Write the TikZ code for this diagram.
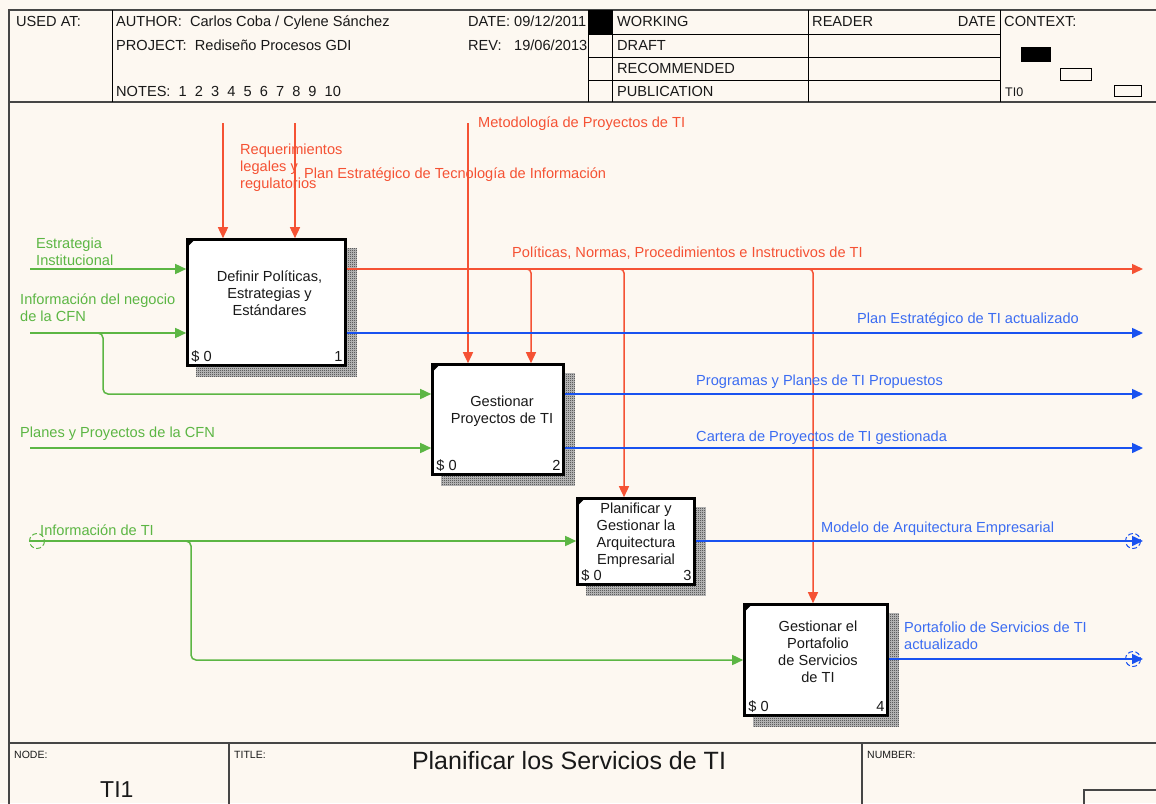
\documentclass[tikz,border=0pt]{standalone}
\usepackage{fontspec}
\setmainfont{Liberation Sans}
\usetikzlibrary{arrows.meta,calc,patterns}

\definecolor{paper}{RGB}{253,248,241}
\definecolor{framegray}{RGB}{70,70,70}
\definecolor{ctrlred}{RGB}{245,82,52}
\definecolor{outblue}{RGB}{25,82,240}
\definecolor{ingreen}{RGB}{92,182,68}
\definecolor{inkgray}{RGB}{25,25,25}

% fine dither used for the box shadows
\pgfdeclarepatternformonly{dither}{\pgfqpoint{0pt}{0pt}}{\pgfqpoint{2pt}{2pt}}{\pgfqpoint{2pt}{2pt}}{%
  \pgfpathrectangle{\pgfqpoint{0pt}{0pt}}{\pgfqpoint{1pt}{1pt}}%
  \pgfpathrectangle{\pgfqpoint{1pt}{1pt}}{\pgfqpoint{1pt}{1pt}}%
  \pgfusepath{fill}}

\newcommand{\labfont}{\fontsize{14.6}{17}\selectfont}
\newcommand{\tinyfont}{\fontsize{10.5}{12}\selectfont}

\begin{document}
\begin{tikzpicture}[x=1pt,y=-1pt,
  frame/.style={draw=framegray,line width=2pt},
  rule/.style={draw=black,line width=1pt},
  txt/.style={font=\labfont,text=inkgray,inner sep=0pt,anchor=base west},
  redtxt/.style={txt,text=ctrlred},
  bluetxt/.style={txt,text=outblue!85!white},
  greentxt/.style={txt,text=ingreen},
  multi/.style={align=left,anchor=north west},
  fnbox/.style={draw=black,line width=2.6pt,fill=white,inner sep=0pt},
  boxtext/.style={font=\labfont,text=inkgray,align=center,inner sep=0pt},
  tip/.style={-{Triangle[length=11pt,width=10pt]}},
  ctrl/.style={draw=ctrlred,line width=1.5pt,tip},
  inarrow/.style={draw=ingreen,line width=1.5pt,tip},
  outarrow/.style={draw=outblue,line width=1.5pt,tip},
  tunnelblue/.style={draw=outblue,line width=1pt,dash pattern=on 5pt off 2.5pt},
  tunnelgreen/.style={draw=ingreen,line width=1pt,dash pattern=on 5pt off 2.5pt},
  shade/.style={preaction={fill=gray!45},pattern=dither,pattern color=black!85},
]
\useasboundingbox (0,0) rectangle (1156,803);
\fill[paper] (0,0) rectangle (1156,803);

% ---------- frame ----------
\draw[frame] (1160,10) -- (9,10) -- (9,810);
\draw[frame] (9,102) -- (1160,102);
\draw[frame] (9,743) -- (1160,743);

% ---------- header ----------
\draw[rule] (112,10) -- (112,102);
\draw[rule] (588,10) -- (588,102);
\draw[rule] (612,10) -- (612,102);
\draw[rule] (808,10) -- (808,102);
\draw[rule] (1000,10) -- (1000,102);
\foreach \yy in {34,57,80} \draw[rule] (588,\yy) -- (1000,\yy);

\node[txt] (usedat) at (16,27) {USED AT:};
\node[txt] (author) at (116,27) {AUTHOR:~ Carlos Coba / Cylene Sánchez};
\node[txt] (project) at (116,50) {PROJECT:~ Rediseño Procesos GDI};
\node[txt] (notes) at (116,96) {NOTES:~ 1~ 2~ 3~ 4~ 5~ 6~ 7~ 8~ 9~ 10};
\node[txt] (date) at (468,27) {\makebox[46pt][l]{DATE:}09/12/2011};
\node[txt] (rev) at (468,50) {\makebox[46pt][l]{REV:}19/06/2013};
\fill[black] (588,10) rectangle (612,34);

\node[txt] (working) at (617,27) {WORKING};
\node[txt] (draft) at (617,50) {DRAFT};
\node[txt] (recom) at (617,73) {RECOMMENDED};
\node[txt] (publ) at (617,96) {PUBLICATION};
\node[txt] (reader) at (812,27) {READER};
\node[txt,anchor=base east] (rdate) at (996,27) {DATE};
\node[txt] (context) at (1004,27) {CONTEXT:};
\node[txt,font=\fontsize{12.5}{14}\selectfont] (ctxnode) at (1005,96) {TI0};
\fill[black] (1021,47) rectangle (1051,62);
\draw[rule] (1060,68) rectangle (1091,80);
\draw[rule] (1114,85) rectangle (1141,96);

% ---------- function boxes ----------
\node[fnbox,minimum width=158pt,minimum height=126pt] (b1) at (266.5,302.5) {};
\node[fnbox,minimum width=131pt,minimum height=110pt] (b2) at (498,419.5) {};
\node[fnbox,minimum width=117pt,minimum height=86pt] (b3) at (636,541.5) {};
\node[fnbox,minimum width=143pt,minimum height=111pt] (b4) at (816,660) {};

\foreach \b in {b1,b2,b3,b4}{
  \fill[shade] ($(\b.north east)+(0,10)$) rectangle ($(\b.south east)+(10,10)$);
  \fill[shade] ($(\b.south west)+(10,0)$) rectangle ($(\b.south east)+(0,10)$);
  \fill[black] ($(\b.north west)+(1,1)$) -- +(8,0) -- +(0,8) -- cycle;
  \node[txt,anchor=base west] at ($(\b.south west)+(5,-5)$) {\$ 0};
}
\node[txt,anchor=base east] (n1) at ($(b1.south east)+(-4,-5)$) {1};
\node[txt,anchor=base east] (n2) at ($(b2.south east)+(-4,-5)$) {2};
\node[txt,anchor=base east] (n3) at ($(b3.south east)+(-4,-5)$) {3};
\node[txt,anchor=base east] (n4) at ($(b4.south east)+(-4,-5)$) {4};

\node[boxtext] (t1) at ($(b1.center)+(3,-9)$) {Definir Políticas,\\Estrategias y\\Estándares};
\node[boxtext] (t2) at ($(b2.center)+(4,-8)$) {Gestionar\\Proyectos de TI};
\node[boxtext] (t3) at ($(b3.center)+(0,-6)$) {Planificar y\\Gestionar la\\Arquitectura\\Empresarial};
\node[boxtext] (t4) at ($(b4.center)+(2,-8)$) {Gestionar el\\Portafolio\\de Servicios\\de TI};

% ---------- controls ----------
\coordinate (c1) at (223,123);
\coordinate (c2) at (295,123);
\coordinate (c3) at (468,123);
\draw[ctrl] (c1) -- (c1 |- b1.north);
\draw[ctrl] (c2) -- (c2 |- b1.north);
\draw[ctrl] (c3) -- (c3 |- b2.north);

% policies output and its branches
\coordinate (polend) at (1143,269);
\draw[ctrl] (polend -| b1.east) -- (polend);
\coordinate (j2) at (531,269);
\coordinate (j3) at (624,269);
\coordinate (j4) at (813,269);
\draw[ctrl,rounded corners=4pt] ($(j2)+(-6,0)$) -- (j2) -- (j2 |- b2.north);
\draw[ctrl,rounded corners=4pt] ($(j3)+(-6,0)$) -- (j3) -- (j3 |- b3.north);
\draw[ctrl,rounded corners=4pt] ($(j4)+(-6,0)$) -- (j4) -- (j4 |- b4.north);

% ---------- inputs ----------
\coordinate (i1) at (30,269);
\coordinate (i2) at (30,333);
\coordinate (i3) at (30,448);
\coordinate (i4) at (30,541);
\draw[inarrow] (i1) -- (i1 -| b1.west);
\draw[inarrow] (i2) -- (i2 -| b1.west);
\coordinate (k2) at (103,394);
\draw[inarrow,rounded corners=5pt] (97,333) -- (103,333) -- (k2) -- (k2 -| b2.west);
\draw[inarrow] (i3) -- (i3 -| b2.west);
\draw[inarrow] (i4) -- (i4 -| b3.west);
\coordinate (k4) at (191,660);
\draw[inarrow,rounded corners=5pt] (185,541) -- (191,541) -- (k4) -- (k4 -| b4.west);
\draw[tunnelgreen] (37,541) circle (7.5);

% ---------- outputs ----------
\coordinate (o1) at (1143,333);
\coordinate (o2) at (1143,394);
\coordinate (o3) at (1143,448);
\coordinate (o4) at (1143,541);
\coordinate (o5) at (1143,659);
\draw[outarrow] (o1 -| b1.east) -- (o1);
\draw[outarrow] (o2 -| b2.east) -- (o2);
\draw[outarrow] (o3 -| b2.east) -- (o3);
\draw[outarrow] (o4 -| b3.east) -- (o4);
\draw[outarrow] (o5 -| b4.east) -- (o5);
\draw[tunnelblue] ($(o4)+(-10,0)$) circle (7.5);
\draw[tunnelblue] ($(o5)+(-10,0)$) circle (7.5);

% ---------- arrow labels ----------
\node[redtxt,multi] (lreq) at (240,144) {Requerimientos\\legales y\\regulatorios};
\node[redtxt] (lpeti) at (304,178) {Plan Estratégico de Tecnología de Información};
\node[redtxt] (lmet) at (478,127) {Metodología de Proyectos de TI};
\node[redtxt] (lpol) at (512,257) {Políticas, Normas, Procedimientos e Instructivos de TI};
\node[greentxt,multi] (lest) at (36,238) {Estrategia\\Institucional};
\node[greentxt,multi] (lneg) at (20,294) {Información del negocio\\de la CFN};
\node[greentxt] (lplan) at (20,437) {Planes y Proyectos de la CFN};
\node[greentxt] (linfo) at (40,535) {Información de TI};
\node[bluetxt] (lpet) at (857,323) {Plan Estratégico de TI actualizado};
\node[bluetxt] (lprog) at (696,385) {Programas y Planes de TI Propuestos};
\node[bluetxt] (lcart) at (696,441) {Cartera de Proyectos de TI gestionada};
\node[bluetxt] (lmod) at (821,532) {Modelo de Arquitectura Empresarial};
\node[bluetxt,multi] (lport) at (904,622) {Portafolio de Servicios de TI\\actualizado};

% ---------- footer ----------
\draw[frame] (229,743) -- (229,810);
\draw[frame] (862,743) -- (862,810);
\draw[frame] (1084,810) -- (1084,790) -- (1160,790);
\node[txt,font=\tinyfont] (fnode) at (14,758) {NODE:};
\node[txt,font=\fontsize{23}{26}\selectfont] (fnum) at (100,797) {TI1};
\node[txt,font=\tinyfont] (ftitle) at (234,758) {TITLE:};
\node[txt,anchor=base,font=\fontsize{25}{28}\selectfont] (ftext) at (569,769) {Planificar los Servicios de TI};
\node[txt,font=\tinyfont] (fnumber) at (867,758) {NUMBER:};
\end{tikzpicture}
\end{document}
